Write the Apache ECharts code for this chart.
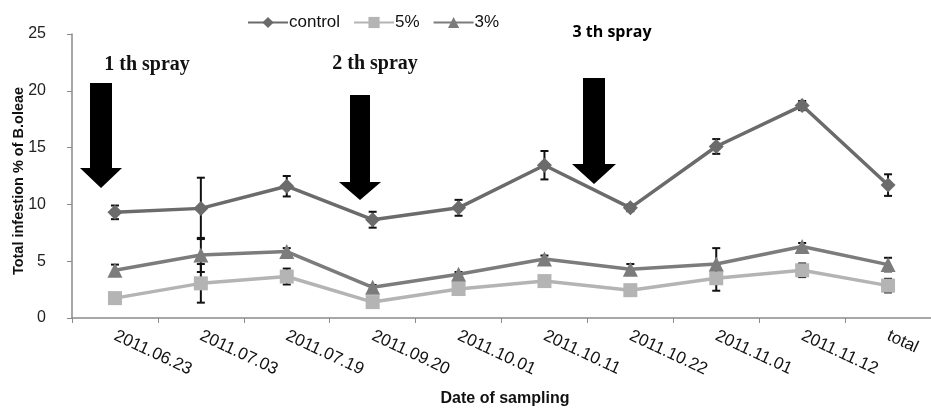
<!DOCTYPE html>
<html>
<head>
<meta charset="utf-8">
<script src="https://cdn.jsdelivr.net/npm/echarts@6/dist/echarts.min.js"></script>
<style>
html,body{margin:0;padding:0;background:#fff;}
#chart{width:931px;height:408px;}
</style>
</head>
<body>
<div id="chart"></div>
<script>
var categories = ['2011.06.23','2011.07.03','2011.07.19','2011.09.20','2011.10.01','2011.10.11','2011.10.22','2011.11.01','2011.11.12','total'];
var controlValues = [9.3, 9.65, 11.6, 8.65, 9.7, 13.45, 9.7, 15.1, 18.7, 11.7];
var controlErrors = [0.6, 2.7, 0.9, 0.7, 0.7, 1.25, 0.3, 0.65, 0.4, 0.95];
var pct5Values = [1.75, 3.05, 3.65, 1.4, 2.55, 3.25, 2.45, 3.5, 4.2, 2.85];
var pct5Errors = [0.0, 1.7, 0.7, 0.0, 0.0, 0.0, 0.0, 1.1, 0.6, 0.6];
var pct3Values = [4.2, 5.55, 5.85, 2.7, 3.85, 5.2, 4.3, 4.75, 6.3, 4.7];
var pct3Errors = [0.5, 1.5, 0.3, 0.2, 0.2, 0.3, 0.45, 1.4, 0.3, 0.6];
var seriesNames = ['control', '5%', '3%'];
var yTicks = [0, 5, 10, 15, 20, 25];

var chart = echarts.init(document.getElementById('chart'), null, {renderer: 'canvas'});

function errorSeries(values, errors) {
  var d = values.map(function (v, i) { return [i, v - errors[i], v + errors[i]]; });
  return {
    type: 'custom',
    z: 1,
    silent: true,
    renderItem: function (params, api) {
      if (api.value(2) - api.value(1) <= 0.001) return null;
      var lo = api.coord([api.value(0), api.value(1)]);
      var hi = api.coord([api.value(0), api.value(2)]);
      var hw = 4;
      var st = {stroke: '#111', lineWidth: 2};
      return {
        type: 'group',
        children: [
          {type: 'line', shape: {x1: lo[0], y1: lo[1], x2: hi[0], y2: hi[1]}, style: st},
          {type: 'line', shape: {x1: lo[0] - hw, y1: lo[1], x2: lo[0] + hw, y2: lo[1]}, style: st},
          {type: 'line', shape: {x1: hi[0] - hw, y1: hi[1], x2: hi[0] + hw, y2: hi[1]}, style: st}
        ]
      };
    },
    encode: {x: 0, y: [1, 2]},
    data: d
  };
}

function arrow(cx, top, headTop, tip, shaftHalf, headHalf) {
  return {
    type: 'polygon',
    z: 100,
    shape: {points: [
      [cx - shaftHalf, top], [cx + shaftHalf, top], [cx + shaftHalf, headTop],
      [cx + headHalf, headTop], [cx, tip], [cx - headHalf, headTop], [cx - shaftHalf, headTop]
    ]},
    style: {fill: '#000'}
  };
}

var option = {
  animation: false,
  backgroundColor: '#fff',
  textStyle: {fontFamily: 'Arial, "Liberation Sans", sans-serif'},
  grid: {left: 72, right: -5, top: 34, bottom: 90, containLabel: false},
  legend: {
    top: 9,
    left: 242,
    itemWidth: 40,
    itemHeight: 14,
    itemGap: 13,
    textStyle: {fontSize: 17, color: '#111', fontFamily: 'Arial, "Liberation Sans", sans-serif', padding: [0, 0, 0, -4]},
    data: seriesNames
  },
  xAxis: {
    type: 'category',
    data: categories,
    boundaryGap: true,
    axisLine: {lineStyle: {color: '#8a8a8a', width: 1.5}},
    axisTick: {show: true, inside: false, length: 5, lineStyle: {color: '#8a8a8a'}},
    axisLabel: {rotate: -25, fontSize: 17, color: '#111', margin: 17, interval: 0},
    splitLine: {show: false}
  },
  yAxis: {
    type: 'value',
    min: 0,
    max: 25,
    interval: 5,
    axisLine: {show: true, lineStyle: {color: '#8a8a8a', width: 1.5}},
    axisTick: {show: true, inside: false, length: 5, lineStyle: {color: '#8a8a8a'}},
    axisLabel: {fontSize: 16, color: '#222', margin: 26},
    splitLine: {show: false}
  },
  series: [
    errorSeries(controlValues, controlErrors),
    errorSeries(pct5Values, pct5Errors),
    errorSeries(pct3Values, pct3Errors),
    {
      name: seriesNames[0], type: 'line', z: 3, data: controlValues,
      symbol: 'diamond', symbolSize: 15,
      lineStyle: {color: '#6b6b6b', width: 3.5},
      itemStyle: {color: '#6b6b6b'}
    },
    {
      name: seriesNames[1], type: 'line', z: 3, data: pct5Values,
      symbol: 'rect', symbolSize: 14,
      lineStyle: {color: '#b4b4b4', width: 3.5},
      itemStyle: {color: '#b4b4b4'}
    },
    {
      name: seriesNames[2], type: 'line', z: 3, data: pct3Values,
      symbol: 'triangle', symbolSize: 15,
      lineStyle: {color: '#7c7c7c', width: 3.5},
      itemStyle: {color: '#7c7c7c'}
    }
  ],
  graphic: [
    arrow(101, 83, 168, 188, 11, 21),
    arrow(360, 95, 182, 200, 10, 21),
    arrow(594, 78, 164, 184, 11, 22),
    {type: 'text', z: 100, x: 147, y: 65, style: {text: '1 th spray', font: 'bold 20px "Liberation Serif", "DejaVu Serif", serif', fill: '#111', textAlign: 'center', textVerticalAlign: 'middle'}},
    {type: 'text', z: 100, x: 375, y: 64, style: {text: '2 th spray', font: 'bold 20px "Liberation Serif", "DejaVu Serif", serif', fill: '#111', textAlign: 'center', textVerticalAlign: 'middle'}},
    {type: 'text', z: 100, x: 612, y: 32, style: {text: '3 th spray', font: 'bold 16px "Open Sans", "Liberation Sans", sans-serif', fill: '#000', textAlign: 'center', textVerticalAlign: 'middle'}},
    {type: 'text', z: 100, x: 19, y: 181, rotation: Math.PI / 2, style: {text: 'Total infestion % of B.oleae', font: 'bold 14.5px Arial, "Liberation Sans", sans-serif', fill: '#111', textAlign: 'center', textVerticalAlign: 'middle'}},
    {type: 'text', z: 100, x: 505, y: 399, style: {text: 'Date of sampling', font: 'bold 16px Arial, "Liberation Sans", sans-serif', fill: '#111', textAlign: 'center', textVerticalAlign: 'middle'}}
  ]
};
chart.setOption(option);
</script>
</body>
</html>
